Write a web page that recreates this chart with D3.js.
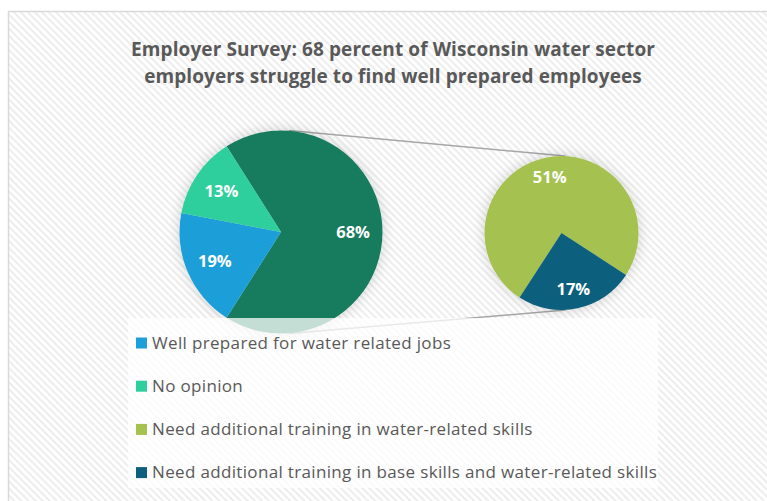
<!DOCTYPE html>
<html><head><meta charset="utf-8">
<script src="https://cdn.jsdelivr.net/npm/d3@7"></script>
<style>body{margin:0;background:#fff;}svg{display:block;font-family:"Open Sans",Lato,sans-serif;}</style>
</head><body>
<svg id="chart" width="767" height="501"></svg>
<script>
// ---- data ----
const titleLines = ["Employer Survey: 68 percent of Wisconsin water sector",
                    "employers struggle to find well prepared employees"];
const categories = ["Well prepared for water related jobs",
                    "No opinion",
                    "Need additional training in water-related skills",
                    "Need additional training in base skills and water-related skills"];
const values = [19, 13, 51, 17];
const colors = ["#1f9fd9", "#2ecf9d", "#a5c14f", "#0e5e7e"];
const otherColor = "#197c5d";
const secondIdx = [2, 3];   // categories split out into the second pie

// ---- layout ----
const svg = d3.select("#chart");
const defs = svg.append("defs");
const pat = defs.append("pattern").attr("id","stripes").attr("patternUnits","userSpaceOnUse")
  .attr("width",5).attr("height",5).attr("patternTransform","rotate(-45)");
pat.append("rect").attr("width",5).attr("height",5).attr("fill","#ffffff");
pat.append("rect").attr("width",2).attr("height",5).attr("fill","#ededed");
const f = defs.append("filter").attr("id","glow").attr("x","-30%").attr("y","-30%").attr("width","160%").attr("height","160%");
f.append("feDropShadow").attr("dx",0).attr("dy",0).attr("stdDeviation",7).attr("flood-color","#000").attr("flood-opacity",0.18);

svg.append("rect").attr("x",8.5).attr("y",11.5).attr("width",780).attr("height",500)
  .attr("fill","url(#stripes)").attr("stroke","#d9d9d9").attr("stroke-width",1.5);

svg.append("g").selectAll("text").data(titleLines).join("text")
  .attr("x",393).attr("y",(d,i)=>56+i*27).attr("text-anchor","middle")
  .attr("font-weight","bold").attr("font-size",19).attr("letter-spacing",0.1)
  .attr("fill","#595959").text(d=>d);

const total = d3.sum(values);
const otherVal = d3.sum(secondIdx, i=>values[i]);
const mainData = [{v:otherVal, c:otherColor}].concat(
  values.map((v,i)=>({v, c:colors[i], i})).filter(d=>!secondIdx.includes(d.i)));
const secData = secondIdx.map(i=>({v:values[i], c:colors[i], i}));

const c1 = {x:281, y:232, r:101.5};
const c2 = {x:561.5, y:233, r:77};

// connector lines
const conn = svg.append("g").attr("stroke","#a6a6a6").attr("stroke-width",1.5);
conn.append("line").attr("x1",c1.x+8).attr("y1",c1.y-c1.r).attr("x2",c2.x+4).attr("y2",c2.y-c2.r);
conn.append("line").attr("x1",c1.x+8).attr("y1",c1.y+c1.r).attr("x2",c2.x+4).attr("y2",c2.y+c2.r);

const otherFrac = otherVal/total;
const pie1 = d3.pie().value(d=>d.v).sort(null)
  .startAngle(Math.PI/2 - otherFrac*Math.PI).endAngle(Math.PI/2 - otherFrac*Math.PI + 2*Math.PI);
const arc1 = d3.arc().innerRadius(0).outerRadius(c1.r);
const lab1 = d3.arc().innerRadius(c1.r*0.71).outerRadius(c1.r*0.71);
const g1 = svg.append("g").attr("transform",`translate(${c1.x},${c1.y})`);
const a1 = pie1(mainData);
g1.append("g").attr("filter","url(#glow)").selectAll("path").data(a1).join("path")
  .attr("d",arc1).attr("fill",d=>d.data.c);
g1.selectAll("text").data(a1).join("text")
  .attr("transform",d=>`translate(${lab1.centroid(d)})`).attr("text-anchor","middle").attr("dy","0.36em")
  .attr("fill","#fff").attr("font-weight","bold").attr("font-size",16.5)
  .text(d=>Math.round(d.data.v/total*100)+"%");

const s2 = 213*Math.PI/180;
const pie2 = d3.pie().value(d=>d.v).sort(null).startAngle(s2).endAngle(s2+2*Math.PI);
const arc2 = d3.arc().innerRadius(0).outerRadius(c2.r);
const lab2 = d3.arc().innerRadius(c2.r*0.74).outerRadius(c2.r*0.74);
const g2 = svg.append("g").attr("transform",`translate(${c2.x},${c2.y})`);
const a2 = pie2(secData);
g2.append("g").attr("filter","url(#glow)").selectAll("path").data(a2).join("path")
  .attr("d",arc2).attr("fill",d=>d.data.c);
g2.selectAll("text").data(a2).join("text")
  .attr("transform",d=>`translate(${lab2.centroid(d)})`).attr("text-anchor","middle").attr("dy","0.36em")
  .attr("fill","#fff").attr("font-weight","bold").attr("font-size",16.5)
  .text(d=>Math.round(d.data.v/total*100)+"%");

// legend
svg.append("rect").attr("x",128).attr("y",318).attr("width",530).attr("height",170)
  .attr("fill","#fff").attr("fill-opacity",0.75);
const lg = svg.append("g").selectAll("g").data(categories).join("g")
  .attr("transform",(d,i)=>`translate(136,${348.5+i*43.2})`);
lg.append("rect").attr("x",0).attr("y",-11).attr("width",11).attr("height",11).attr("fill",(d,i)=>colors[i]);
lg.append("text").attr("x",16).attr("y",0).attr("font-size",17).attr("letter-spacing",0.34)
  .attr("fill","#595959").text(d=>d);
</script>
</body></html>
